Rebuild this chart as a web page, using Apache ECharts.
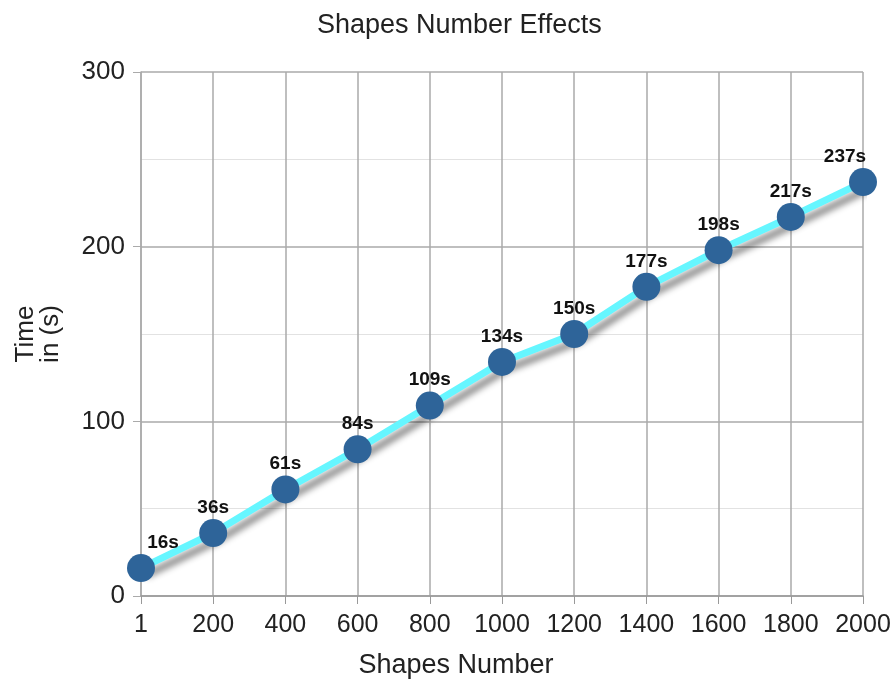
<!DOCTYPE html>
<html><head><meta charset="utf-8">
<script src="https://cdn.jsdelivr.net/npm/echarts@6/dist/echarts.min.js"></script>
<style>html,body{margin:0;padding:0;background:#fff}#c{width:894px;height:684px}</style>
</head><body><div id="c"></div>
<script>
const categories = ['1','200','400','600','800','1000','1200','1400','1600','1800','2000'];
const times = [16,36,61,84,109,134,150,177,198,217,237];
const labels = ['16s','36s','61s','84s','109s','134s','150s','177s','198s','217s','237s'];

const chart = echarts.init(document.getElementById('c'));
const font = 'Liberation Sans, Arial, sans-serif';
const data = times.map((v,i)=>{
  const d = {value:v};
  if (i===0) d.label = {offset:[22,0]};
  if (i===times.length-1) d.label = {offset:[-18,0]};
  return d;
});
chart.setOption({
  animation:false,
  title:{text:'Shapes Number Effects',left:312,top:7,textStyle:{fontFamily:font,fontSize:27,fontWeight:'normal',color:'#222'}},
  grid:{left:141,right:31,top:72,bottom:87},
  xAxis:{type:'category',data:categories,boundaryGap:false,
    name:'Shapes Number',nameLocation:'middle',nameGap:56,
    nameTextStyle:{fontFamily:font,fontSize:27,color:'#222',padding:[0,92,0,0]},
    axisLine:{lineStyle:{color:'#999',width:1.5}},
    axisTick:{show:true,interval:0,length:8,lineStyle:{color:'#999'}},
    axisLabel:{interval:0,fontFamily:font,fontSize:25,color:'#222',margin:17},
    splitLine:{show:true,interval:0,lineStyle:{color:'#aaa',width:1.5}}},
  yAxis:{type:'value',min:0,max:300,interval:100,
    name:'Time\nin (s)',nameLocation:'middle',nameGap:78,nameRotate:90,
    nameTextStyle:{fontFamily:font,fontSize:26,color:'#222',lineHeight:25},
    axisLine:{show:true,lineStyle:{color:'#aaa',width:1.5}},
    axisTick:{show:true,length:8,lineStyle:{color:'#aaa'}},
    axisLabel:{fontFamily:font,fontSize:26,color:'#222',margin:16},
    splitLine:{show:true,lineStyle:{color:'#aaa',width:1.5}},
    minorTick:{show:false,splitNumber:2},
    minorSplitLine:{show:true,lineStyle:{color:'#e2e2e2',width:1}}},
  series:[{type:'line',data:data,
    symbol:'circle',symbolSize:28,
    itemStyle:{color:'#2e6499'},
    lineStyle:{color:'#66f6ff',width:7,shadowColor:'rgba(0,0,0,0.45)',shadowBlur:6,shadowOffsetX:5,shadowOffsetY:7},
    label:{show:true,position:'top',distance:2,fontFamily:font,fontSize:19,fontWeight:'bold',color:'#111',
      formatter:p=>labels[p.dataIndex]}}]
});
</script></body></html>
